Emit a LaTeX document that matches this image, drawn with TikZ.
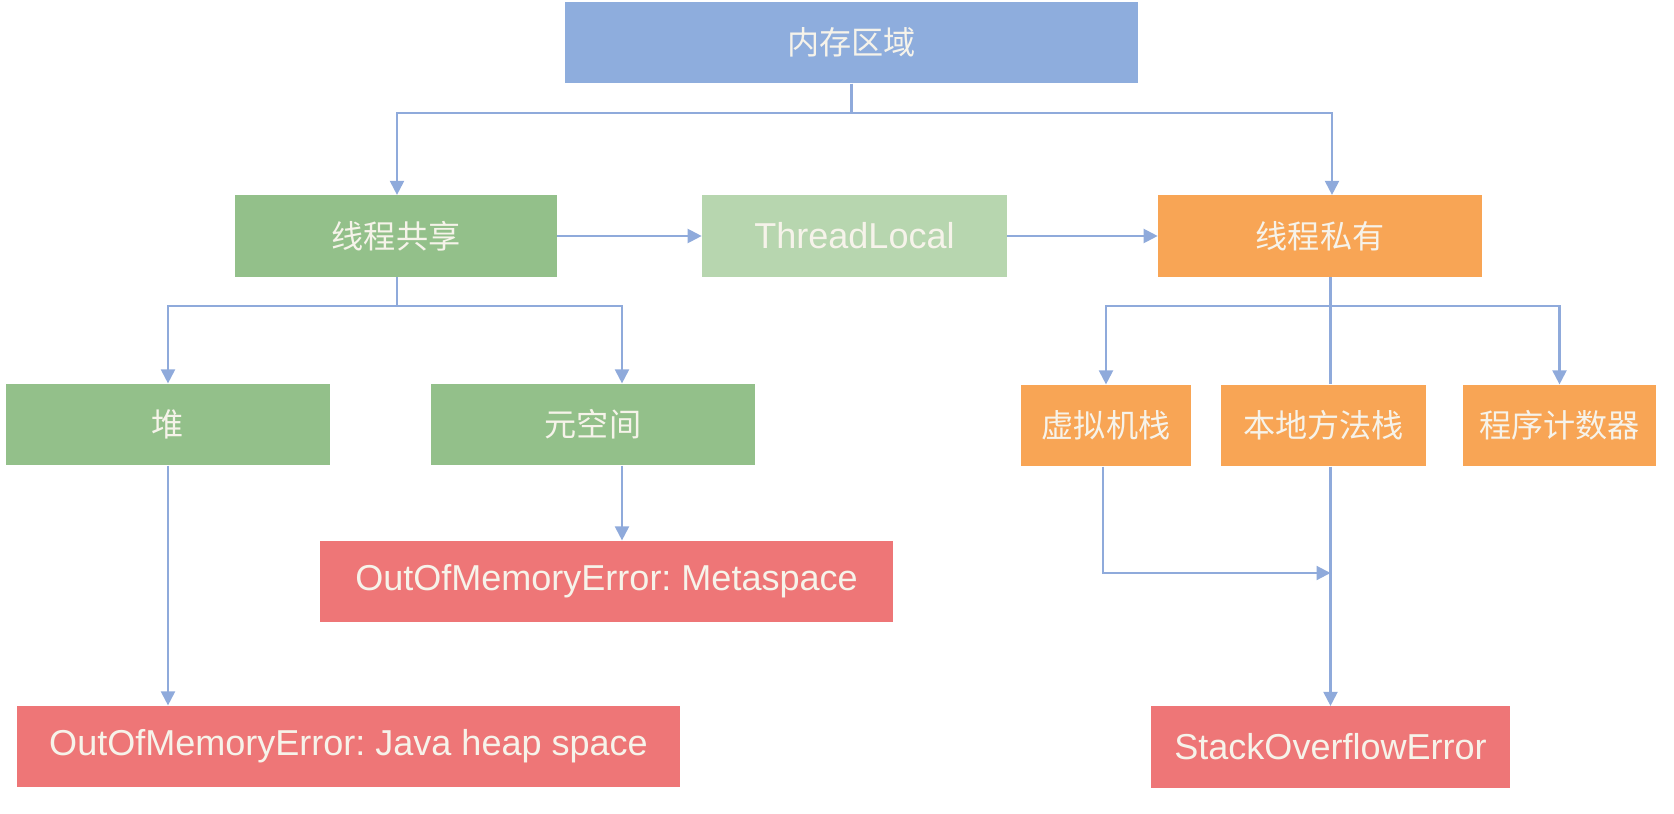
\documentclass[tikz,border=0pt]{standalone}
\usepackage{fontspec}
\setmainfont{Liberation Sans}
\newfontfamily\cjk{Noto Sans CJK SC}
\usetikzlibrary{positioning,arrows.meta}
\frenchspacing

\definecolor{memblue}{HTML}{8EADDD}
\definecolor{sharegreen}{HTML}{93C08A}
\definecolor{tlgreen}{HTML}{B7D6AF}
\definecolor{privorange}{HTML}{F8A555}
\definecolor{errred}{HTML}{EE7677}
\definecolor{linkblue}{HTML}{8FAADB}
\definecolor{boxtext}{HTML}{F6F3EA}

\begin{document}
\begin{tikzpicture}[
    x=0.02cm, y=-0.02cm,
    box/.style={rectangle, inner sep=0pt, minimum height=1.63cm, text=boxtext,
      font=\fontsize{20.5}{24}\selectfont},
    zh/.style={box, font=\cjk\fontsize{18.3}{22}\selectfont},
    link/.style={draw=linkblue, line width=1.2pt},
    arr/.style={link, -{Triangle[length=0.28cm, width=0.28cm]}}
  ]
    \useasboundingbox (0,0) rectangle (1674,814);

    \node[zh, fill=memblue, minimum width=11.46cm] (mem) at (851.5,42.5) {内存区域};

    \node[zh, fill=sharegreen, minimum width=6.44cm] (shared) at (396,236) {线程共享};
    \node[box, fill=tlgreen, minimum width=6.10cm] (tlocal) at (854.5,236) {ThreadLocal};
    \node[zh, fill=privorange, minimum width=6.48cm] (private) at (1320,236) {线程私有};

    \node[zh, fill=sharegreen, minimum width=6.48cm] (heap) at (168,424.5) {堆};
    \node[zh, fill=sharegreen, minimum width=6.48cm] (meta) at (593,424.5) {元空间};
    \node[zh, fill=privorange, minimum width=3.40cm] (vmstack) at (1106,425.5) {虚拟机栈};
    \node[zh, fill=privorange, minimum width=4.10cm] (native) at (1323.5,425.5) {本地方法栈};
    \node[zh, fill=privorange, minimum width=3.86cm] (pc) at (1559.5,425.5) {程序计数器};

    \node[box, fill=errred, minimum width=11.46cm] (metaerr) at (606.5,581.5) {OutOfMemoryError: Metaspace};
    \node[box, fill=errred, minimum width=13.26cm] (heaperr) at (348.5,746.5) {OutOfMemoryError: Java heap space};
    \node[box, fill=errred, minimum width=7.18cm] (soerr) at (1330.5,747) {StackOverflowError};

    \coordinate (somerge) at (1330.5,573);

    % top split
    \draw[arr] (mem.south) -- ++(0,29) -| ([xshift=0.02cm]shared.north);
    \draw[arr] (mem.south) -- ++(0,29) -| ([xshift=0.24cm]private.north);

    \draw[arr] (shared) -- (tlocal);
    \draw[arr] (tlocal) -- (private);

    % shared side
    \draw[arr] ([xshift=0.02cm]shared.south) -- ++(0,29) -| (heap.north);
    \draw[arr] ([xshift=0.02cm]shared.south) -- ++(0,29) -| ([xshift=0.58cm]meta.north);
    \draw[arr] (heap.south) -- (heap.south |- heaperr.north);
    \draw[arr] ([xshift=0.58cm]meta.south) -- ([xshift=0.58cm]meta.south |- metaerr.north);

    % private side
    \draw[link] ([xshift=0.21cm]private.south) -- ([xshift=0.21cm]private.south |- native.north);
    \draw[arr] ([xshift=0.21cm]private.south) -- ++(0,29) -| (vmstack.north);
    \draw[arr] ([xshift=0.21cm]private.south) -- ++(0,29) -| (pc.north);
    \draw[arr] (native.south -| soerr.north) -- (soerr.north);
    \draw[arr] ([xshift=-0.06cm]vmstack.south) |- (somerge);
  \end{tikzpicture}
\end{document}
